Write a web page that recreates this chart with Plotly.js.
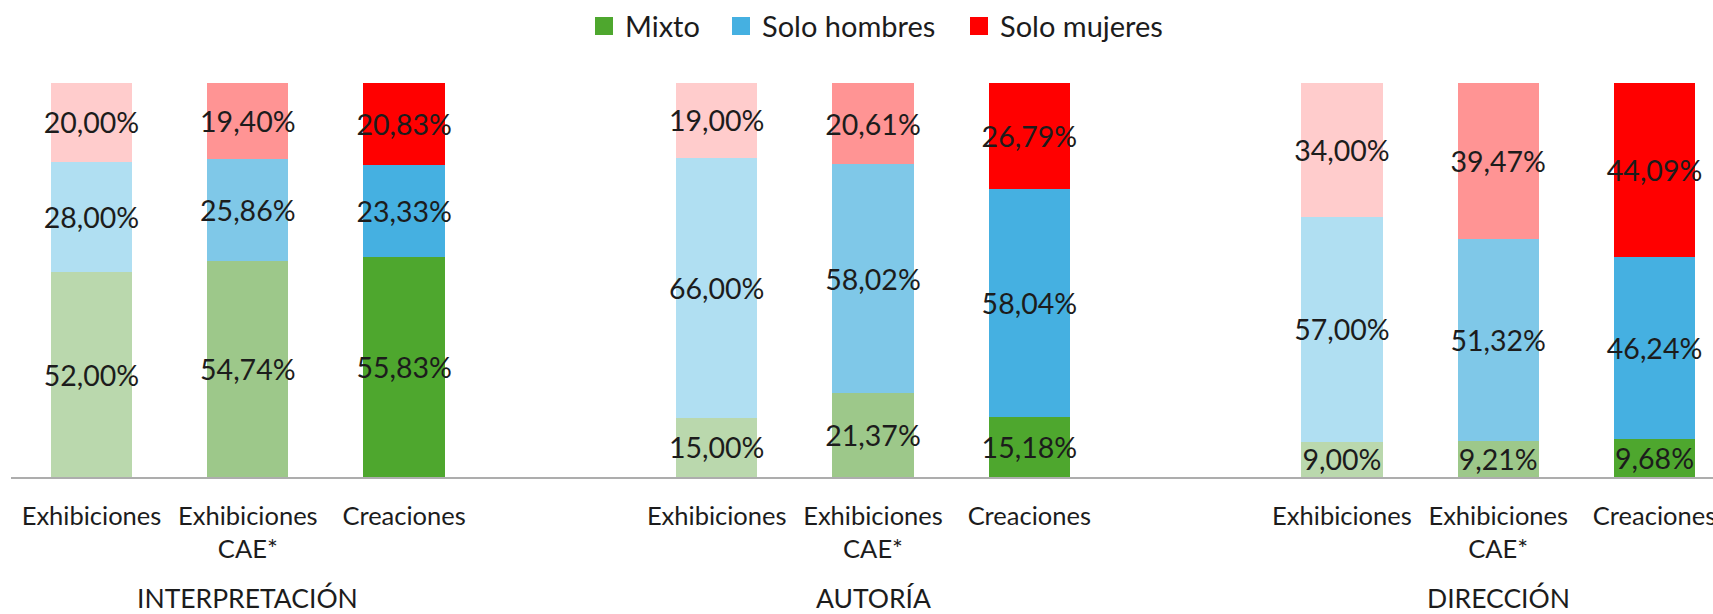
<!DOCTYPE html>
<html>
<head>
<meta charset="utf-8">
<script src="https://cdn.plot.ly/plotly-3.0.1.min.js"></script>
<style>html,body{margin:0;padding:0;background:#fff;}#chart{width:1713px;height:614px;}</style>
</head>
<body>
<div id="chart"></div>
<script>
// ---- data ----
const groups = ["INTERPRETACIÓN", "AUTORÍA", "DIRECCIÓN"];
const subcategories = ["Exhibiciones", "Exhibiciones<br>CAE*", "Creaciones"];
const seriesNames = ["Mixto", "Solo hombres", "Solo mujeres"];
// values per group: [Exhibiciones, Exhibiciones CAE*, Creaciones]
const mixto = [52.00, 54.74, 55.83, 15.00, 21.37, 15.18, 9.00, 9.21, 9.68];
const soloHombres = [28.00, 25.86, 23.33, 66.00, 58.02, 58.04, 57.00, 51.32, 46.24];
const soloMujeres = [20.00, 19.40, 20.83, 19.00, 20.61, 26.79, 34.00, 39.47, 44.09];
// colour shades per subcategory [Exhibiciones, CAE*, Creaciones]
const mixtoShades = ["#BAD8AD", "#9DC88A", "#4EA72E"];
const hombresShades = ["#B0DFF2", "#7FC8E8", "#45B0E1"];
const mujeresShades = ["#FFCCCC", "#FF9494", "#FF0000"];

// ---- layout helpers ----
const W = 1713, H = 614;
const M = {l: 11, r: 0, t: 83, b: 137};
const pw = W - M.l - M.r, ph = H - M.t - M.b;
const pxX = p => (p - M.l) / pw;
const pxY = p => (H - M.b - p) / ph;
const FONT = "Lato, 'Open Sans', sans-serif";
const TXT = "#1c1c1c";

// x position: each group occupies 3 slots plus a blank slot
const xs = [], ticktext = [], subIdx = [];
groups.forEach((g, gi) => subcategories.forEach((s, si) => {
  xs.push(gi * (subcategories.length + 1) + si);
  ticktext.push(s);
  subIdx.push(si);
}));
const fmt = v => v.toFixed(2).replace(".", ",") + "%";

const seriesVals = [mixto, soloHombres, soloMujeres];
const seriesShades = [mixtoShades, hombresShades, mujeresShades];

const traces = seriesVals.map((vals, k) => ({
  type: "bar",
  name: seriesNames[k],
  x: xs,
  y: vals,
  text: vals.map(fmt),
  textposition: "inside",
  insidetextanchor: "middle",
  textangle: 0,
  textfont: {family: FONT, size: 28.5, color: TXT},
  marker: {color: subIdx.map(i => seriesShades[k][i]), line: {width: 0}},
  showlegend: false,
  hoverinfo: "skip"
}));

// manual legend (square + label)
const legendSquareLeft = [595, 732, 970];
const legendSq = 18, legendGap = 10, legendCy = 26;
const shapes = seriesNames.map((n, k) => ({
  type: "rect", xref: "paper", yref: "paper",
  x0: pxX(legendSquareLeft[k]), x1: pxX(legendSquareLeft[k] + legendSq),
  y0: pxY(legendCy + legendSq / 2), y1: pxY(legendCy - legendSq / 2),
  fillcolor: seriesShades[k][2], line: {width: 0}
}));
const annotations = seriesNames.map((n, k) => ({
  text: n, xref: "paper", yref: "paper",
  x: pxX(legendSquareLeft[k] + legendSq + legendGap), y: pxY(legendCy),
  xanchor: "left", yanchor: "middle", showarrow: false,
  font: {family: FONT, size: 29, color: TXT}
}));
groups.forEach((g, gi) => annotations.push({
  text: g, xref: "x", yref: "paper",
  x: gi * (subcategories.length + 1) + (subcategories.length - 1) / 2,
  y: pxY(598), xanchor: "center", yanchor: "middle", showarrow: false,
  font: {family: FONT, size: 26.5, color: TXT}
}));

const layout = {
  width: W, height: H,
  margin: {l: M.l, r: M.r, t: M.t, b: M.b, pad: 0},
  paper_bgcolor: "#ffffff", plot_bgcolor: "#ffffff",
  barmode: "stack", bargap: 0.48,
  showlegend: false,
  uniformtext: {mode: "show", minsize: 28.5},
  xaxis: {
    range: [-0.515, 10.374], tickmode: "array", tickvals: xs, ticktext: ticktext,
    ticks: "", showgrid: false, zeroline: false,
    showline: true, linecolor: "#ADADAD", linewidth: 2,
    tickfont: {family: FONT, size: 25.5, color: TXT},
    ticklabelstandoff: 15, ticklabeloverflow: "allow", fixedrange: true
  },
  yaxis: {range: [0, 100], visible: false, showgrid: false, zeroline: false, fixedrange: true},
  shapes: shapes,
  annotations: annotations,
  font: {family: FONT, color: TXT}
};

Plotly.newPlot("chart", traces, layout, {displayModeBar: false, staticPlot: true});
</script>
</body>
</html>
